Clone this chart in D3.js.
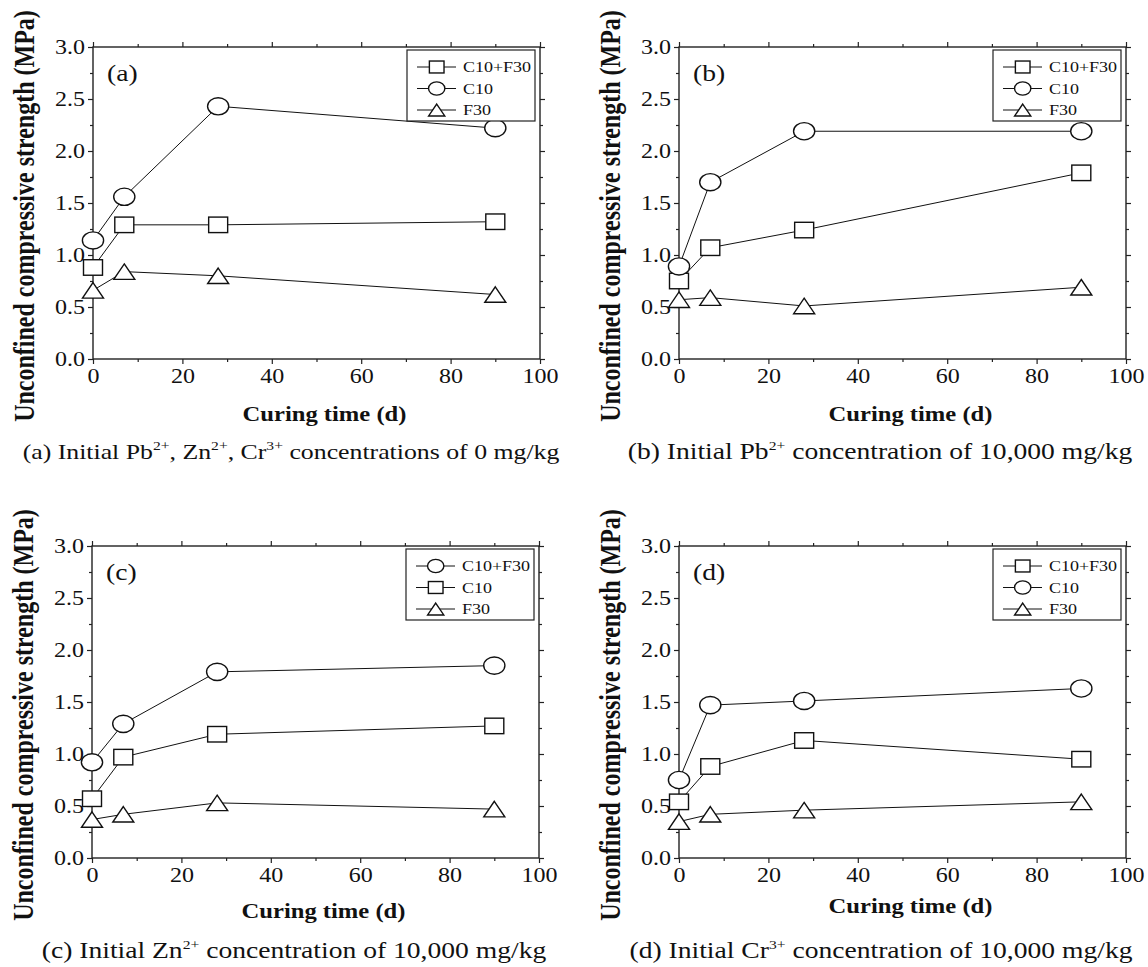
<!DOCTYPE html>
<html lang="en">
<head>
<meta charset="UTF-8">
<title>Unconfined compressive strength vs curing time</title>
<style>
  body { margin: 0; background: white; }
  text { font-family: "Liberation Serif", "Times New Roman", serif; fill: #111; }
  .frame { fill: none; stroke: #222; stroke-width: 1.4px; }
  .tick line { stroke: #222; stroke-width: 1.2px; }
  .series-line { fill: none; stroke: #111; stroke-width: 1px; }
  .marker { fill: white; stroke: #111; stroke-width: 1.4px; }
  .legend-box { fill: white; stroke: #222; stroke-width: 1.2px; }
</style>
</head>
<body>
<script src="https://d3js.org/d3.v7.min.js"></script>
<script>
// ---- data ----
const days = [0, 7, 28, 90];
const xTicks = [0, 20, 40, 60, 80, 100];
const xMinor = [10, 30, 50, 70, 90];
const yTicks = [0, 0.5, 1, 1.5, 2, 2.5, 3];
const yMinor = [0.25, 0.75, 1.25, 1.75, 2.25, 2.75];
const seriesNames = ["C10+F30", "C10", "F30"];

// (a) no heavy metal
const aC10F30 = [0.88, 1.29, 1.29, 1.32];
const aC10 = [1.14, 1.56, 2.43, 2.22];
const aF30 = [0.66, 0.84, 0.80, 0.62];
// (b) Pb 10,000 mg/kg
const bC10F30 = [0.75, 1.07, 1.24, 1.79];
const bC10 = [0.89, 1.70, 2.19, 2.19];
const bF30 = [0.57, 0.59, 0.51, 0.69];
// (c) Zn 10,000 mg/kg
const cC10F30 = [0.92, 1.29, 1.79, 1.85];
const cC10 = [0.57, 0.97, 1.19, 1.27];
const cF30 = [0.37, 0.42, 0.53, 0.47];
// (d) Cr 10,000 mg/kg
const dC10F30 = [0.54, 0.88, 1.13, 0.95];
const dC10 = [0.75, 1.47, 1.51, 1.63];
const dF30 = [0.35, 0.42, 0.46, 0.54];

const captionA = [["(a) Initial Pb"], ["2+", 1], [", Zn"], ["2+", 1], [", Cr"], ["3+", 1], [" concentrations of 0 mg/kg"]];
const captionB = [["(b) Initial Pb"], ["2+", 1], [" concentration of 10,000 mg/kg"]];
const captionC = [["(c) Initial Zn"], ["2+", 1], [" concentration of 10,000 mg/kg"]];
const captionD = [["(d) Initial Cr"], ["3+", 1], [" concentration of 10,000 mg/kg"]];

// ---- layout ----
const width = 1148, height = 967;
const SX = 1.2; // the original figure is a bit stretched sideways
const FONT = '"Liberation Serif", "Times New Roman", serif';

const panels = [
  { tag: "(a)", left: 93, right: 540, top: 47, bottom: 359, xlab: 56, cap: captionA, capX: 291, capSize: 21.5,
    series: [aC10F30, aC10, aF30], shapes: ["square", "circle", "triangle"] },
  { tag: "(b)", left: 679, right: 1126, top: 47, bottom: 359, xlab: 56, cap: captionB, capX: 880, capSize: 23,
    series: [bC10F30, bC10, bF30], shapes: ["square", "circle", "triangle"] },
  { tag: "(c)", left: 92, right: 539, top: 546, bottom: 858, xlab: 54, cap: captionC, capX: 294, capSize: 23,
    series: [cC10F30, cC10, cF30], shapes: ["circle", "square", "triangle"] },
  { tag: "(d)", left: 679, right: 1126, top: 546, bottom: 858, xlab: 49, cap: captionD, capX: 881, capSize: 23,
    series: [dC10F30, dC10, dF30], shapes: ["square", "circle", "triangle"] }
];

const svg = d3.select("body").append("svg")
  .attr("width", width)
  .attr("height", height);

svg.append("rect").attr("width", width).attr("height", height).attr("fill", "white");

function stext(g, x, y, str, size, opts) {
  opts = opts || {};
  const t = g.append("text")
    .attr("transform", `translate(${x},${y}) scale(${SX},1)` + (opts.rotate ? ` rotate(${opts.rotate})` : ""))
    .attr("font-size", size + "px")
    .style("font-family", FONT)
    .attr("text-anchor", opts.anchor || "start");
  if (opts.bold) t.attr("font-weight", "bold");
  if (opts.dy) t.attr("dy", opts.dy);
  t.text(str);
  return t;
}

function marker(g, shape, cx, cy, k) {
  if (shape === "square") {
    const w = 19 * k, h = 15.5 * k;
    g.append("rect").attr("class", "marker")
      .attr("x", cx - w / 2).attr("y", cy - h / 2).attr("width", w).attr("height", h);
  } else if (shape === "circle") {
    g.append("ellipse").attr("class", "marker")
      .attr("cx", cx).attr("cy", cy).attr("rx", 10.6 * k).attr("ry", 8.6 * k);
  } else {
    const w = 21 * k, h = 15.5 * k;
    g.append("path").attr("class", "marker")
      .attr("d", `M${cx},${cy - h / 2}L${cx + w / 2},${cy + h / 2}L${cx - w / 2},${cy + h / 2}Z`);
  }
}

panels.forEach(function(p) {
  const g = svg.append("g");
  const x = d3.scaleLinear().domain([0, 100]).range([p.left, p.right]);
  const y = d3.scaleLinear().domain([0, 3]).range([p.bottom, p.top]);

  // ticks, all four sides, pointing out
  const noDomain = s => s.select(".domain").remove();
  g.append("g").attr("transform", `translate(0,${p.bottom})`)
    .call(d3.axisBottom(x).tickValues(xTicks).tickSize(5).tickPadding(5).tickFormat(d3.format("d")))
    .call(noDomain)
    .call(s => s.selectAll("text").attr("font-size", "20px").attr("fill", "#111")
      .style("font-family", FONT).attr("transform", `scale(${SX},1)`));
  g.append("g").attr("transform", `translate(0,${p.bottom})`)
    .call(d3.axisBottom(x).tickValues(xMinor).tickSize(3).tickFormat("")).call(noDomain);
  g.append("g").attr("transform", `translate(0,${p.top})`)
    .call(d3.axisTop(x).tickValues(xTicks).tickSize(5).tickFormat("")).call(noDomain);
  g.append("g").attr("transform", `translate(0,${p.top})`)
    .call(d3.axisTop(x).tickValues(xMinor).tickSize(3).tickFormat("")).call(noDomain);

  g.append("g").attr("transform", `translate(${p.left},0)`)
    .call(d3.axisLeft(y).tickValues(yTicks).tickSize(5).tickPadding(3).tickFormat(d3.format(".1f")))
    .call(noDomain)
    .call(s => s.selectAll("text").attr("font-size", "20px").attr("fill", "#111")
      .style("font-family", FONT).attr("x", -8 / SX).attr("transform", `scale(${SX},1)`));
  g.append("g").attr("transform", `translate(${p.left},0)`)
    .call(d3.axisLeft(y).tickValues(yMinor).tickSize(3).tickFormat("")).call(noDomain);
  g.append("g").attr("transform", `translate(${p.right},0)`)
    .call(d3.axisRight(y).tickValues(yTicks).tickSize(5).tickFormat("")).call(noDomain);
  g.append("g").attr("transform", `translate(${p.right},0)`)
    .call(d3.axisRight(y).tickValues(yMinor).tickSize(3).tickFormat("")).call(noDomain);

  g.append("rect").attr("class", "frame")
    .attr("x", p.left).attr("y", p.top)
    .attr("width", p.right - p.left).attr("height", p.bottom - p.top);

  // lines then markers
  const line = d3.line().x((d, i) => x(days[i])).y(d => y(d));
  p.series.forEach(function(vals) {
    g.append("path").datum(vals).attr("class", "series-line").attr("d", line);
  });
  p.series.forEach(function(vals, si) {
    vals.forEach(function(v, i) { marker(g, p.shapes[si], x(days[i]), y(v), 1); });
  });

  // panel tag
  stext(g, p.left + 14, p.top + 34, p.tag, 23);

  // legend
  const lw = 128, lh = 71;
  const lx = p.right - 5 - lw, ly = p.top + 3;
  g.append("rect").attr("class", "legend-box").attr("x", lx).attr("y", ly).attr("width", lw).attr("height", lh);
  seriesNames.forEach(function(name, i) {
    const ry = ly + 17 + i * 21.5;
    g.append("line").attr("x1", lx + 10).attr("x2", lx + 49).attr("y1", ry).attr("y2", ry)
      .attr("stroke", "#111").attr("stroke-width", 1);
    marker(g, p.shapes[i], lx + 29.7, ry, 0.77);
    stext(g, lx + 56, ry, name, 15, { dy: "0.35em" });
  });

  // axis titles
  stext(g, (p.left + p.right) / 2 + 8, p.bottom + p.xlab, "Curing time (d)", 20.5, { anchor: "middle", bold: true, dy: "0.3em" });
  stext(g, p.left - 69, (p.top + p.bottom) / 2 + 13, "Unconfined compressive strength (MPa)", 24,
    { anchor: "middle", bold: true, rotate: -90, dy: "0.35em" });

  // caption
  const cap = g.append("text")
    .attr("transform", `translate(${p.capX},${p.bottom + 100}) scale(${SX},1)`)
    .style("font-family", FONT)
    .attr("font-size", p.capSize + "px").attr("text-anchor", "middle");
  let prevSup = false;
  p.cap.forEach(function(part) {
    if (part[1]) {
      cap.append("tspan").attr("dy", -9).attr("font-size", "13px").text(part[0]);
      prevSup = true;
    } else {
      cap.append("tspan").attr("dy", prevSup ? 9 : 0).text(part[0]);
      prevSup = false;
    }
  });
});
</script>
</body>
</html>
